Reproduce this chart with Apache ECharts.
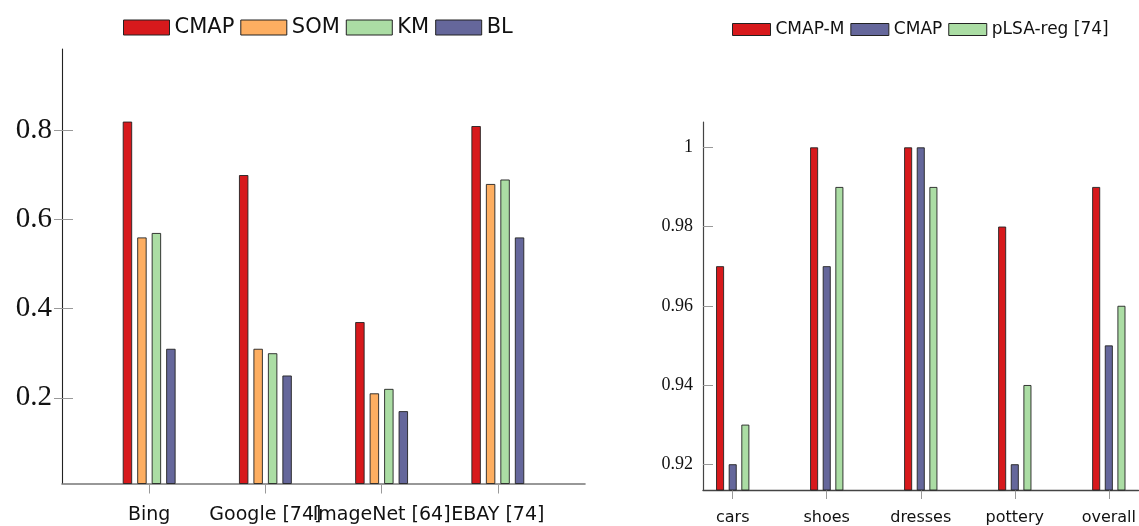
<!DOCTYPE html>
<html><head><meta charset="utf-8">
<script src="https://cdn.jsdelivr.net/npm/echarts@6/dist/echarts.min.js"></script>
<style>html,body{margin:0;padding:0;background:#fff}#c{width:1139px;height:526px}</style>
</head><body><div id="c"></div>
<script>
// ---- Left chart data ----
const leftCategories = ['Bing', 'Google [74]', 'ImageNet [64]', 'EBAY [74]'];
const leftSeriesNames = ['CMAP', 'SOM', 'KM', 'BL'];
const leftCMAP = [0.82, 0.70, 0.37, 0.81];
const leftSOM  = [0.56, 0.31, 0.21, 0.68];
const leftKM   = [0.57, 0.30, 0.22, 0.69];
const leftBL   = [0.31, 0.25, 0.17, 0.56];
const leftTicks = [0.2, 0.4, 0.6, 0.8];

// ---- Right chart data ----
const rightCategories = ['cars', 'shoes', 'dresses', 'pottery', 'overall'];
const rightSeriesNames = ['CMAP-M', 'CMAP', 'pLSA-reg [74]'];
const rightCMAPM = [0.97, 1.00, 1.00, 0.98, 0.99];
const rightCMAP  = [0.92, 0.97, 1.00, 0.92, 0.95];
const rightPLSA  = [0.93, 0.99, 0.99, 0.94, 0.96];
const rightTicks = [0.92, 0.94, 0.96, 0.98, 1];

const RED = '#d7191c', ORANGE = '#fdae61', GREEN = '#abdda4', PURPLE = '#65679b';
const SANS = 'DejaVu Sans', SERIF = 'Liberation Serif';

const leftIdx = leftCategories.map((_, i) => i);
const rightIdx = rightCategories.map((_, i) => i);
const pairs = (arr) => arr.map((v, i) => [i, v]);

function bar(name, data, color, g, w, gap) {
  return {
    type: 'bar', name: name, data: pairs(data),
    xAxisIndex: g, yAxisIndex: g * 2,
    barWidth: w, barGap: gap,
    itemStyle: { color: color, borderColor: '#222', borderWidth: 0.9 },
    silent: true
  };
}

const chart = echarts.init(document.getElementById('c'), null, { renderer: 'canvas' });
chart.setOption({
  animation: false,
  backgroundColor: '#fff',
  legend: [
    {
      data: leftSeriesNames, left: 118, top: 12, padding: 5, icon: 'rect',
      itemWidth: 46, itemHeight: 15, itemGap: 6, selectedMode: false,
      itemStyle: { borderColor: '#222', borderWidth: 1 },
      textStyle: { fontSize: 21, fontFamily: SANS, color: '#111' }
    },
    {
      data: rightSeriesNames.map((n) => n === 'CMAP' ? 'CMAP ' : n), left: 727, top: 16, padding: 5, icon: 'rect',
      itemWidth: 38, itemHeight: 12, itemGap: 6, selectedMode: false,
      formatter: (n) => n.trim(),
      itemStyle: { borderColor: '#222', borderWidth: 1 },
      textStyle: { fontSize: 17, fontFamily: SANS, color: '#111' }
    }
  ],
  grid: [
    { left: 62, top: 49, width: 523, height: 434.5 },
    { left: 703, top: 122, width: 444, height: 370 }
  ],
  xAxis: [
    {
      type: 'value', gridIndex: 0, min: -0.75, max: 3.75,
      splitLine: { show: false },
      axisLine: { show: true, onZero: false, lineStyle: { color: '#777', width: 1.6 } },
      axisTick: { show: true, customValues: leftIdx, length: 10, lineStyle: { color: '#999' } },
      axisLabel: { customValues: leftIdx, formatter: (v) => leftCategories[Math.round(v)],
        fontSize: 19, fontFamily: SANS, color: '#111', margin: 22 }
    },
    {
      type: 'value', gridIndex: 1, min: -0.316, max: 4.316,
      splitLine: { show: false },
      axisLine: { show: true, onZero: false, lineStyle: { color: '#444', width: 1.4 } },
      axisTick: { show: true, customValues: rightIdx, length: 9, lineStyle: { color: '#999' } },
      axisLabel: { customValues: rightIdx, formatter: (v) => rightCategories[Math.round(v)],
        fontSize: 16, fontFamily: SANS, color: '#111', margin: 20 }
    }
  ],
  yAxis: [
    {
      type: 'value', gridIndex: 0, position: 'left', min: 0.0076, max: 0.983,
      splitLine: { show: false },
      axisLine: { show: true, onZero: false, lineStyle: { color: '#222', width: 1.1 } },
      axisTick: { show: true, customValues: leftTicks, length: 8, lineStyle: { color: '#999' } },
      axisLabel: { customValues: leftTicks, fontSize: 29, fontFamily: SERIF, color: '#111', margin: 10 }
    },
    {
      type: 'value', gridIndex: 0, position: 'left', min: 0.0076, max: 0.983,
      splitLine: { show: false }, axisLine: { show: false, onZero: false }, axisLabel: { show: false },
      axisTick: { show: true, inside: true, customValues: leftTicks, length: 11, lineStyle: { color: '#999' } }
    },
    {
      type: 'value', gridIndex: 1, position: 'left', min: 0.9135, max: 1.0064,
      splitLine: { show: false },
      axisLine: { show: true, onZero: false, lineStyle: { color: '#444', width: 1.2 } },
      axisTick: { show: true, inside: true, customValues: rightTicks, length: 10, lineStyle: { color: '#999' } },
      axisLabel: { customValues: rightTicks, fontSize: 18, fontFamily: SERIF, color: '#111', margin: 10 }
    }
  ],
  series: [
    bar(leftSeriesNames[0], leftCMAP, RED, 0, 9.4, '54%'),
    bar(leftSeriesNames[1], leftSOM, ORANGE, 0, 9.4, '54%'),
    bar(leftSeriesNames[2], leftKM, GREEN, 0, 9.4, '54%'),
    bar(leftSeriesNames[3], leftBL, PURPLE, 0, 9.4, '54%'),
    bar('CMAP-M', rightCMAPM, RED, 1, 8, '58%'),
    bar('CMAP ', rightCMAP, PURPLE, 1, 8, '58%'),
    bar('pLSA-reg [74]', rightPLSA, GREEN, 1, 8, '58%')
  ]
});
</script>
</body></html>
